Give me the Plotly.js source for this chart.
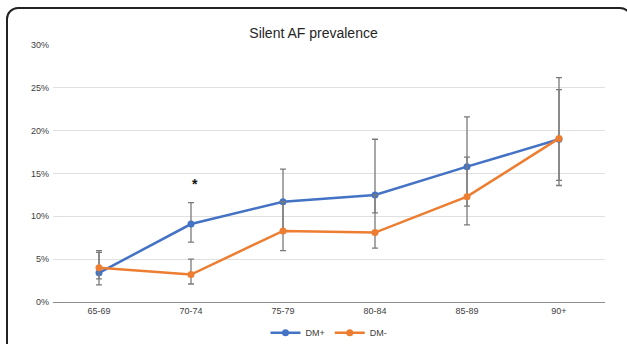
<!DOCTYPE html>
<html>
<head>
<meta charset="utf-8">
<script src="https://cdn.plot.ly/plotly-3.0.1.min.js"></script>
<style>
html,body{margin:0;padding:0;background:#fff;}
#wrap{position:relative;width:627px;height:344px;overflow:hidden;}
#frame{position:absolute;left:6px;top:7px;width:626px;height:360px;border:2px solid #222;border-radius:12px;box-sizing:border-box;pointer-events:none;z-index:5;}
#chart{position:absolute;left:0;top:0;width:627px;height:344px;}
</style>
</head>
<body>
<div id="wrap">
<div id="chart"></div>
<div id="frame"></div>
</div>
<script>
var categories = ['65-69','70-74','75-79','80-84','85-89','90+'];
var dmPlus = [0.034, 0.091, 0.117, 0.125, 0.158, 0.190];
var dmPlusLow = [0.020, 0.070, 0.083, 0.104, 0.112, 0.136];
var dmPlusHigh = [0.058, 0.116, 0.155, 0.190, 0.216, 0.262];
var dmMinus = [0.040, 0.032, 0.083, 0.081, 0.123, 0.191];
var dmMinusLow = [0.027, 0.021, 0.060, 0.063, 0.090, 0.142];
var dmMinusHigh = [0.060, 0.050, 0.117, 0.125, 0.169, 0.248];
var starCategory = '70-74';
var starValue = 0.141;

function up(v, h){ return h.map(function(x,i){ return x - v[i]; }); }
function dn(v, l){ return v.map(function(x,i){ return x - l[i]; }); }

var errStyle = {type:'data', symmetric:false, color:'#7a7a7a', thickness:1.3, width:3};

var traces = [
  {
    x: categories, y: dmPlus, name: 'DM+', type: 'scatter', mode: 'lines+markers',
    line: {color:'#4472C4', width:2.5}, marker: {color:'#4472C4', size:7},
    error_y: Object.assign({array: up(dmPlus, dmPlusHigh), arrayminus: dn(dmPlus, dmPlusLow)}, errStyle)
  },
  {
    x: categories, y: dmMinus, name: 'DM-', type: 'scatter', mode: 'lines+markers',
    line: {color:'#ED7D31', width:2.5}, marker: {color:'#ED7D31', size:7},
    error_y: Object.assign({array: up(dmMinus, dmMinusHigh), arrayminus: dn(dmMinus, dmMinusLow)}, errStyle)
  }
];

var layout = {
  width: 627, height: 344,
  margin: {l:53, r:22, t:45, b:42, autoexpand: false},
  paper_bgcolor: '#fff', plot_bgcolor: '#fff',
  font: {family: 'Liberation Sans, Arial, sans-serif', size: 9, color: '#404040'},
  title: {text: 'Silent AF prevalence', font: {size: 14, color: '#262626'}, x: 0.5, xanchor: 'center', y: 0.905, yanchor: 'middle'},
  showlegend: true,
  legend: {orientation: 'h', x: 0.5, xanchor: 'center', yref: 'container', y: 0.033, yanchor: 'middle', font: {size: 9, color: '#404040'}},
  xaxis: {
    type: 'category', range: [-0.5, 5.5], showgrid: false, zeroline: false,
    showline: true, linecolor: '#8c8c8c', linewidth: 1.2, ticks: '', ticklen: 0,
    tickfont: {size: 9, color: '#404040'}, fixedrange: true, automargin: false
  },
  yaxis: {
    range: [0, 0.30], dtick: 0.05, tickformat: '.0%', showgrid: true, gridcolor: '#e0e0e0', gridwidth: 1,
    zeroline: false, showline: false, ticks: '', tickfont: {size: 9, color: '#404040'}, ticklabelstandoff: 3, fixedrange: true, automargin: false
  },
  annotations: [
    {x: starCategory, y: starValue, text: '<b>*</b>', showarrow: false, xshift: 4, yshift: -3, font: {size: 14, color: '#111', family: 'Liberation Sans, Arial, sans-serif'}, yanchor: 'middle'}
  ]
};

Plotly.newPlot('chart', traces, layout, {displayModeBar: false, staticPlot: true});
</script>
</body>
</html>
